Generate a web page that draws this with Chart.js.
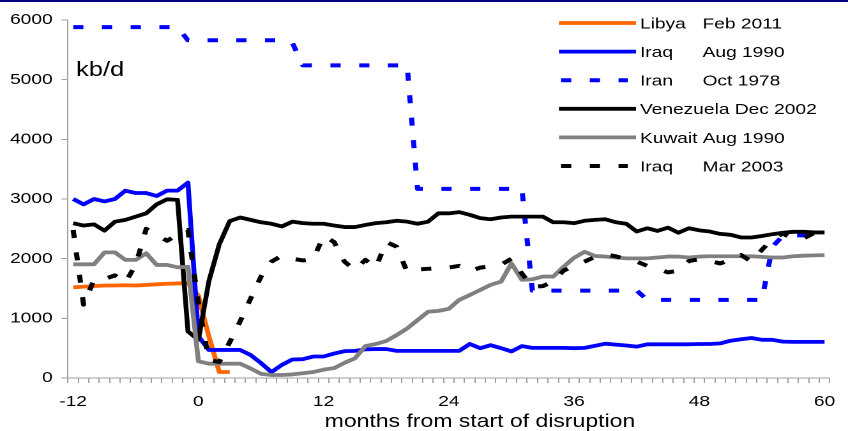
<!DOCTYPE html>
<html><head><meta charset="utf-8">
<script src="https://cdn.jsdelivr.net/npm/chart.js@4.4.1/dist/chart.umd.min.js"></script>
<style>
html,body{margin:0;padding:0;background:#fff;overflow:hidden;width:848px;height:431px}
#wrap{position:absolute;left:0;top:0;width:664px;height:431px;transform:scaleX(1.27711);transform-origin:0 0}
</style></head><body>
<div id="wrap"><canvas id="c"></canvas></div>
<script>
// months from start of disruption
const months = [-12,-11,-10,-9,-8,-7,-6,-5,-4,-3,-2,-1,0,1,2,3,4,5,6,7,8,9,10,11,12,13,14,15,16,17,18,19,20,21,22,23,24,25,26,27,28,29,30,31,32,33,34,35,36,37,38,39,40,41,42,43,44,45,46,47,48,49,50,51,52,53,54,55,56,57,58,59,60];
const xTickLabels = ['-12','0','12','24','36','48','60'];
const yTickValues = [0,1000,2000,3000,4000,5000,6000];

// series values, kb/d
const libya2011 = [1520,1530,1540,1550,1550,1555,1550,1560,1570,1580,1585,1590, 1380,700,100,100];
const iraq1990 = [3000,2910,3000,2960,3000,3140,3100,3100,3050,3140,3140,3275,
  700,470,470,470,470,385,250,100,220,310,315,360,360,
  410,450,455,480,485,485,455,455,455,455,455,455,
  455,570,500,550,500,445,535,505,505,505,505,500,
  505,540,575,560,545,525,565,565,565,565,565,570,
  570,580,625,650,670,640,640,610,605,605,605,605];
const iran1978 = [5880,5880,5880,5880,5880,5880,5880,5880,5880,5880,5880,
  5660,5660,5660,5660,5660,5660,5660,5660,5660,5660,
  5620,5240,5240,5240,5240,5240,5240,5240,5240,5240,5240,5240,
  3170,3170,3170,3170,3170,3170,3170,3170,3170,3170,3170,
  1465,1465,1465,1465,1465,1465,1465,1465,1465,1465,1465,
  1310,1310,1310,1310,1310,1310,1310,1310,1310,1310,1310,1310,
  2200,2380,2390,2390,2390,2390];
const venezuela2002 = [2595,2555,2575,2470,2620,2650,2705,2760,2910,2995,2985,780,
  640,1620,2240,2630,2690,2650,2610,2585,2540,2620,2595,2585,2585,
  2555,2530,2530,2565,2595,2610,2635,2620,2585,2620,2760,2760,
  2780,2735,2680,2660,2690,2705,2705,2705,2705,2610,2610,2595,
  2635,2650,2660,2610,2585,2455,2510,2465,2520,2435,2510,2475,
  2455,2415,2400,2355,2355,2380,2410,2435,2450,2450,2440,2440];
const kuwait1990 = [1905,1905,1905,2105,2105,1980,1980,2090,1895,1895,1855,1865,
  280,240,240,240,240,160,70,50,50,60,80,100,140,
  165,255,330,535,570,620,720,830,970,1110,1125,1160,
  1310,1390,1475,1560,1615,1920,1645,1655,1700,1700,1865,2015,
  2115,2045,2035,2020,2005,2005,2005,2020,2035,2035,2020,2035,
  2040,2040,2040,2040,2040,2030,2020,2020,2040,2050,2055,2060];
const iraq2003 = [2480,1230,1650,1660,1720,1600,1900,2500,2400,2300,2400,2480,
  1250,300,270,600,950,1330,1700,1950,2050,2000,1970,1990,2380,
  2280,1950,1810,1980,1850,2280,2200,1780,1820,1830,1840,1850,
  1880,1790,1850,1870,1900,2000,1750,1530,1540,1620,1800,1880,
  1950,2030,2070,2040,1990,1950,1880,1830,1770,1800,1960,1990,
  1960,1920,1980,2060,1950,2150,2330,2420,2330,2340,2430,2440];

const legendNames = ['Libya','Iraq','Iran','Venezuela','Kuwait','Iraq'];
const legendDates = ['Feb 2011','Aug 1990','Oct 1978','Dec 2002','Aug 1990','Mar 2003'];
const unitLabel = 'kb/d';
const xTitle = 'months from start of disruption';

const FONT = '"Liberation Sans", Arial, Helvetica, sans-serif';
const AXIS = '#a0a0a0';
const DASH = [8, 14.5];

function mk(i, data, color, dashed) {
  return {
    label: legendNames[i] + ' ' + legendDates[i],
    data: data,
    borderColor: color,
    backgroundColor: color,
    borderWidth: dashed ? 4 : 3.8,
    borderDash: dashed ? DASH : undefined,
    borderCapStyle: 'butt',
    borderJoinStyle: 'round',
    pointRadius: 0,
    pointHoverRadius: 0,
    tension: 0,
    fill: false,
    spanGaps: false,
    order: 10 - i
  };
}

const refLegend = {
  id: 'refLegend',
  beforeDraw(chart) {
    const ctx = chart.ctx;
    ctx.save();
    ctx.fillStyle = '#000080';
    ctx.fillRect(0, 0, chart.width, 2);
    ctx.restore();
  },
  afterDraw(chart) {
    const ctx = chart.ctx;
    ctx.save();
    ctx.fillStyle = '#000';
    ctx.textBaseline = 'alphabetic';
    // unit label
    ctx.font = '20px ' + FONT;
    ctx.textAlign = 'left';
    ctx.fillText(unitLabel, 59.5, 76);
    // axis title
    ctx.font = '18px ' + FONT;
    ctx.textAlign = 'center';
    ctx.fillText(xTitle, 375.8, 427);
    ctx.textAlign = 'left';
    // legend
    ctx.font = '15px ' + FONT;
    const sp = ctx.measureText(' ').width;
    chart.data.datasets.forEach((ds, i) => {
      const y = 23 + i * 28.6;
      const dashed = !!ds.borderDash;
      ctx.beginPath();
      ctx.strokeStyle = ds.borderColor;
      ctx.lineWidth = ds.borderWidth;
      ctx.lineCap = 'butt';
      ctx.setLineDash(dashed ? ds.borderDash : []);
      ctx.moveTo(dashed ? 439.3 : 437.7, y);
      ctx.lineTo(dashed ? 491.5 : 498.0, y);
      ctx.stroke();
      ctx.setLineDash([]);
      ctx.fillStyle = '#000';
      const name = legendNames[i];
      ctx.fillText(name, 501.1, y + 5.4);
      const w = ctx.measureText(name).width;
      ctx.fillText(legendDates[i], Math.max(550.1, 501.1 + w + sp), y + 5.4);
    });
    ctx.restore();
  }
};

new Chart(document.getElementById('c'), {
  type: 'line',
  data: {
    labels: months,
    datasets: [
      mk(0, libya2011, '#ff6600', false),
      mk(1, iraq1990, '#0000ff', false),
      mk(2, iran1978, '#0000ff', true),
      mk(3, venezuela2002, '#000000', false),
      mk(4, kuwait1990, '#808080', false),
      mk(5, iraq2003, '#000000', true)
    ]
  },
  options: {
    responsive: true,
    maintainAspectRatio: false,
    animation: false,
    devicePixelRatio: 2,
    layout: { padding: { left: 0, right: 3.9, top: 20, bottom: 0 } },
    plugins: { legend: { display: false }, tooltip: { enabled: false }, title: { display: false } },
    events: [],
    scales: {
      x: {
        type: 'category',
        offset: true,
        grid: { offset: true, drawOnChartArea: false, drawTicks: true, tickLength: 5, color: AXIS, lineWidth: 1 },
        border: { display: true, color: AXIS, width: 1 },
        ticks: {
          autoSkip: false, maxRotation: 0, minRotation: 0, padding: 10,
          color: '#000', font: { family: FONT, size: 15 },
          callback: function (value) {
            const l = String(this.getLabelForValue(value));
            return xTickLabels.includes(l) ? l : '';
          }
        },
        title: { display: false },
        afterFit: s => { s.height = 53; }
      },
      y: {
        min: 0, max: 6000,
        afterBuildTicks: s => { s.ticks = yTickValues.map(v => ({ value: v })); },
        grid: { drawOnChartArea: false, drawTicks: true, tickLength: 5, color: AXIS, lineWidth: 1 },
        border: { display: true, color: AXIS, width: 1 },
        ticks: { padding: 7, color: '#000', font: { family: FONT, size: 15 }, callback: v => String(v) },
        afterFit: s => { s.width = 53.2; }
      }
    }
  },
  plugins: [refLegend]
});
</script>
</body></html>
